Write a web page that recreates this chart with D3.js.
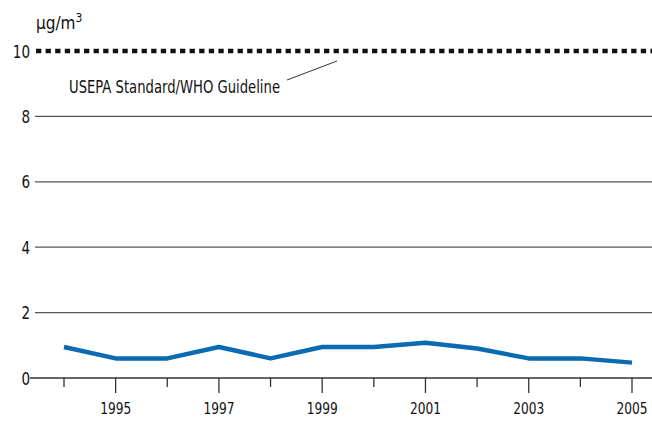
<!DOCTYPE html>
<html><head><meta charset="utf-8">
<script src="https://cdn.jsdelivr.net/npm/d3@7"></script>
<style>body{margin:0;background:#fff}svg{display:block}text{font-family:"DejaVu Sans Condensed","DejaVu Sans",sans-serif;font-stretch:condensed;fill:#111}</style>
</head><body><svg id="c" width="652" height="422"></svg>
<script>
const years = [1994,1995,1996,1997,1998,1999,2000,2001,2002,2003,2004,2005];
const values = [0.95,0.6,0.6,0.95,0.6,0.95,0.95,1.08,0.9,0.6,0.6,0.47];
const yTicks = [0,2,4,6,8,10];
const xLabels = [1995,1997,1999,2001,2003,2005];
const guideline = 10;
const guideLabel = "USEPA Standard/WHO Guideline";

const svg = d3.select("#c");
const x = d3.scaleLinear().domain([1994,2005]).range([64,632]);
const y = d3.scaleLinear().domain([0,10]).range([378,51]);
const left = 30, right = 652;

svg.append("g").selectAll("line").data(yTicks.filter(d=>d>0 && d<10)).join("line")
  .attr("x1",left+5).attr("x2",right).attr("y1",d=>y(d)).attr("y2",d=>y(d))
  .attr("stroke","#555").attr("stroke-width",1.3);
svg.append("line").attr("x1",left).attr("x2",right).attr("y1",y(0)).attr("y2",y(0))
  .attr("stroke","#333").attr("stroke-width",1.5);
svg.append("g").selectAll("line").data(years).join("line")
  .attr("x1",d=>x(d)).attr("x2",d=>x(d)).attr("y1",y(0))
  .attr("y2",d=>xLabels.includes(d)?y(0)+15:y(0)+9)
  .attr("stroke","#333").attr("stroke-width",1.3);
svg.append("g").selectAll("text").data(xLabels).join("text")
  .attr("x",d=>x(d)).attr("y",414).attr("text-anchor","middle")
  .attr("font-size",16).attr("textLength",31).attr("lengthAdjust","spacingAndGlyphs").text(d=>d);
svg.append("g").selectAll("text").data(yTicks).join("text")
  .attr("x",30).attr("y",d=>y(d)+6.5).attr("text-anchor","end")
  .attr("font-size",18).attr("textLength",d=>String(d).length*8.6)
  .attr("lengthAdjust","spacingAndGlyphs").text(d=>d);
const u = svg.append("text").attr("x",36).attr("y",29).attr("font-size",17);
u.append("tspan").text("µg/m");
u.append("tspan").attr("dy",-7).attr("font-size",12).text("3");
svg.append("line").attr("x1",left+6).attr("x2",right).attr("y1",y(guideline)).attr("y2",y(guideline))
  .attr("stroke","#111").attr("stroke-width",4.5).attr("stroke-dasharray","5.3,4.3");
svg.append("text").attr("x",69).attr("y",93).attr("font-size",18)
  .attr("textLength",211).attr("lengthAdjust","spacingAndGlyphs").text(guideLabel);
svg.append("line").attr("x1",287).attr("y1",80).attr("x2",337).attr("y2",61)
  .attr("stroke","#333").attr("stroke-width",1);
svg.append("path").datum(years.map((d,i)=>[d,values[i]]))
  .attr("d",d3.line().x(d=>x(d[0])).y(d=>y(d[1])))
  .attr("fill","none").attr("stroke","#0a6ab2").attr("stroke-width",4.5)
  .attr("stroke-linejoin","round");
</script></body></html>
